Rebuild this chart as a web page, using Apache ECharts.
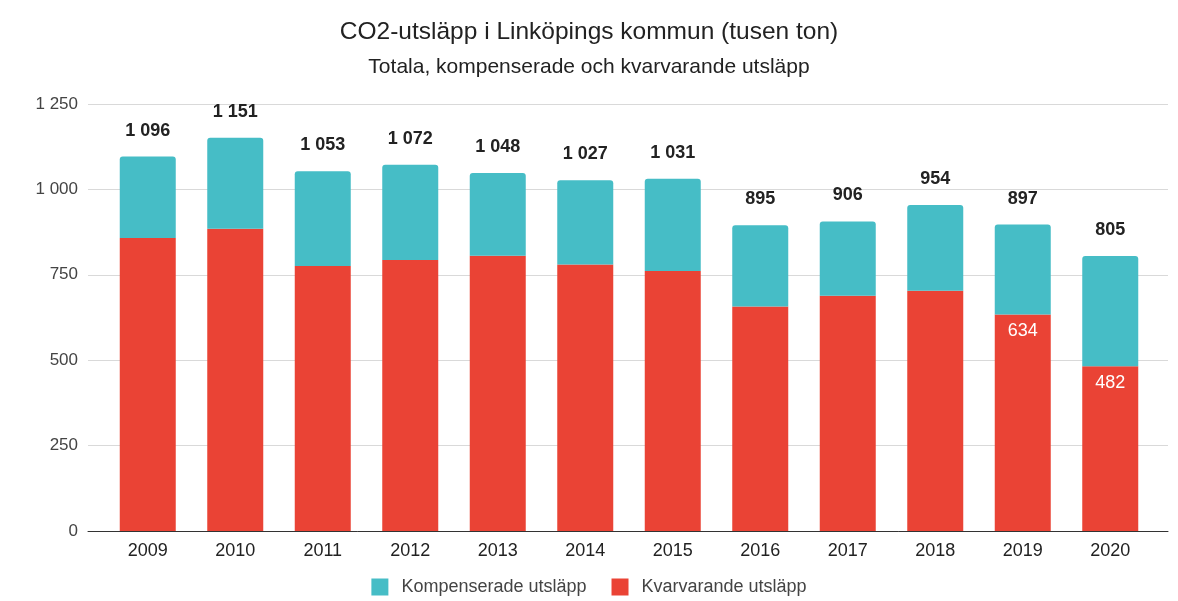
<!DOCTYPE html>
<html>
<head>
<meta charset="utf-8">
<script src="https://cdn.jsdelivr.net/npm/echarts@6/dist/echarts.min.js"></script>
<style>
  html, body { margin: 0; padding: 0; background: #fff; }
  #chart { width: 1178px; height: 601px; }
</style>
</head>
<body>
<div id="chart"></div>
<script>
var years = ['2009', '2010', '2011', '2012', '2013', '2014', '2015', '2016', '2017', '2018', '2019', '2020'];
var totals = [1096, 1151, 1053, 1072, 1048, 1027, 1031, 895, 906, 954, 897, 805];
var kvarvarande = [858, 885, 776, 793, 806, 780, 761, 657, 689, 703, 634, 482];
var kompenserade = [238, 266, 277, 279, 242, 247, 270, 238, 217, 251, 263, 323];
var yTicks = [0, 250, 500, 750, 1000, 1250];

// bara de två sista åren har etikett i den röda stapeln
var redLabelled = ['2019', '2020'];

var fmt = function (v) {
    return String(v).replace(/\B(?=(\d{3})+(?!\d))/g, ' ');
};

var chart = echarts.init(document.getElementById('chart'));
chart.setOption({
    textStyle: { fontFamily: 'Liberation Sans, Arial, sans-serif' },
    color: ['#46bdc6', '#ea4335'],
    title: [
        {
            text: 'CO2-utsläpp i Linköpings kommun (tusen ton)',
            left: 'center',
            top: 15,
            textStyle: { fontSize: 24.5, fontWeight: 'normal', color: '#222' }
        },
        {
            text: 'Totala, kompenserade och kvarvarande utsläpp',
            left: 'center',
            top: 52,
            textStyle: { fontSize: 21, fontWeight: 'normal', color: '#222' }
        }
    ],
    legend: {
        bottom: 0,
        left: 'center',
        itemWidth: 17,
        itemHeight: 17,
        itemGap: 25,
        icon: 'rect',
        data: ['Kompenserade utsläpp', 'Kvarvarande utsläpp'],
        textStyle: { fontSize: 18, color: '#444', padding: [0, 0, 0, 8] }
    },
    // grid 0: staplarna, grid 1: bredare rutnät och y-axel
    grid: [
        { left: 104, right: 24, top: 104, bottom: 70 },
        { left: 88, right: 10, top: 104, bottom: 70 }
    ],
    xAxis: [
        {
            type: 'category',
            gridIndex: 0,
            data: years,
            axisTick: { show: false },
            axisLine: { show: false },
            axisLabel: { fontSize: 18, color: '#222', margin: 11 }
        },
        {
            type: 'value',
            gridIndex: 1,
            min: 0,
            max: 1,
            axisTick: { show: false },
            axisLabel: { show: false },
            splitLine: { show: false },
            axisLine: { show: true, lineStyle: { color: '#333' } }
        }
    ],
    yAxis: [
        {
            type: 'value',
            gridIndex: 0,
            min: yTicks[0],
            max: yTicks[yTicks.length - 1],
            interval: 250,
            axisLine: { show: false },
            axisTick: { show: false },
            axisLabel: { show: false },
            splitLine: { show: false }
        },
        {
            type: 'value',
            gridIndex: 1,
            min: yTicks[0],
            max: yTicks[yTicks.length - 1],
            interval: 250,
            axisLine: { show: false },
            axisTick: { show: false },
            axisLabel: { fontSize: 17, color: '#444', margin: 10, formatter: fmt },
            splitLine: { lineStyle: { color: '#d9d9d9' } }
        }
    ],
    series: [
        {
            name: 'Kvarvarande utsläpp',
            type: 'bar',
            stack: 'tot',
            barWidth: 56,
            z: 3,
            itemStyle: { color: '#ea4335' },
            data: kvarvarande.map(function (v, i) {
                var show = redLabelled.indexOf(years[i]) >= 0;
                return {
                    value: v,
                    label: {
                        show: show,
                        position: 'insideTop',
                        distance: 8,
                        color: '#fff',
                        fontSize: 18
                    }
                };
            })
        },
        {
            name: 'Kompenserade utsläpp',
            type: 'bar',
            stack: 'tot',
            barWidth: 56,
            z: 3,
            itemStyle: { color: '#46bdc6', borderRadius: [3, 3, 0, 0] },
            label: {
                show: true,
                position: 'top',
                distance: 17,
                fontSize: 18,
                fontWeight: 'bold',
                color: '#222',
                formatter: function (p) { return fmt(totals[p.dataIndex]); }
            },
            data: kompenserade
        }
    ]
});
</script>
</body>
</html>
